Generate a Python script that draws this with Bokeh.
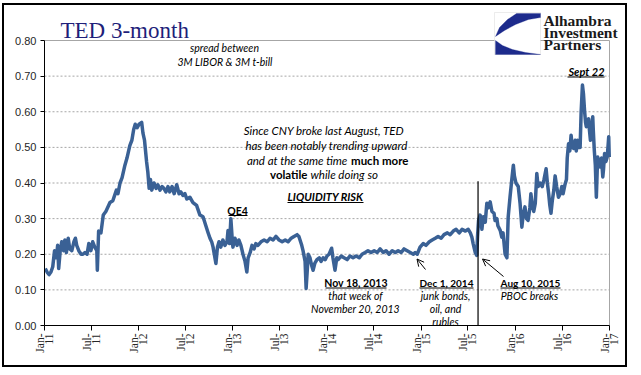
import math
import pandas as pd
from bokeh.plotting import figure
from bokeh.models import (Label, Arrow, OpenHead, BoxAnnotation, PolyAnnotation,
                          FixedTicker, Range1d, NumeralTickFormatter)
from bokeh.embed import file_html
from bokeh.resources import INLINE

# ---------------- data ----------------
dates = [
    "2011-01-04", "2011-01-11", "2011-01-19", "2011-01-26", "2011-02-02", "2011-02-09", "2011-02-16",
    "2011-02-21", "2011-02-25", "2011-03-03", "2011-03-09", "2011-03-16", "2011-03-21", "2011-03-27",
    "2011-04-03", "2011-04-09", "2011-04-17", "2011-04-25", "2011-05-01", "2011-05-06", "2011-05-14",
    "2011-05-23", "2011-05-30", "2011-06-07", "2011-06-15", "2011-06-22", "2011-06-30", "2011-07-07",
    "2011-07-15", "2011-07-23", "2011-07-25", "2011-07-30", "2011-08-08", "2011-08-17", "2011-08-27",
    "2011-09-12", "2011-09-23", "2011-10-07", "2011-10-13", "2011-10-21", "2011-10-29", "2011-11-09",
    "2011-11-17", "2011-11-28", "2011-12-06", "2011-12-13", "2011-12-19", "2011-12-26", "2012-01-03",
    "2012-01-13", "2012-01-18", "2012-01-24", "2012-02-01", "2012-02-06", "2012-02-11", "2012-02-16",
    "2012-02-21", "2012-03-01", "2012-03-09", "2012-03-16", "2012-03-24", "2012-04-01", "2012-04-08",
    "2012-04-16", "2012-04-24", "2012-05-01", "2012-05-10", "2012-05-18", "2012-05-28", "2012-06-06",
    "2012-06-13", "2012-06-21", "2012-06-29", "2012-07-06", "2012-07-18", "2012-07-30", "2012-08-13",
    "2012-08-26", "2012-09-07", "2012-09-18", "2012-09-26", "2012-10-04", "2012-10-11", "2012-10-16",
    "2012-10-27", "2012-11-02", "2012-11-08", "2012-11-15", "2012-11-23", "2012-12-01", "2012-12-09",
    "2012-12-13", "2012-12-19", "2012-12-24", "2012-12-29", "2013-01-01", "2013-01-09", "2013-01-17",
    "2013-01-24", "2013-02-01", "2013-02-09", "2013-02-17", "2013-02-24", "2013-03-01", "2013-03-09",
    "2013-03-16", "2013-03-24", "2013-03-31", "2013-04-08", "2013-04-20", "2013-05-02", "2013-05-14",
    "2013-05-25", "2013-06-06", "2013-06-17", "2013-06-29", "2013-07-11", "2013-07-23", "2013-08-03",
    "2013-08-15", "2013-08-26", "2013-09-07", "2013-09-14", "2013-09-25", "2013-09-30", "2013-10-08",
    "2013-10-12", "2013-10-16", "2013-10-20", "2013-10-27", "2013-11-02", "2013-11-08", "2013-11-15",
    "2013-11-23", "2013-12-02", "2013-12-09", "2013-12-17", "2013-12-25", "2014-01-01", "2014-01-09",
    "2014-01-19", "2014-01-24", "2014-02-01", "2014-02-08", "2014-02-13", "2014-02-25", "2014-03-08",
    "2014-03-20", "2014-03-31", "2014-04-12", "2014-04-24", "2014-05-06", "2014-05-17", "2014-05-29",
    "2014-06-09", "2014-06-21", "2014-07-03", "2014-07-15", "2014-07-26", "2014-08-07", "2014-08-18",
    "2014-08-30", "2014-09-11", "2014-09-23", "2014-10-04", "2014-10-16", "2014-10-27", "2014-11-08",
    "2014-11-20", "2014-12-02", "2014-12-09", "2014-12-17", "2014-12-28", "2015-01-09", "2015-01-20",
    "2015-02-02", "2015-02-13", "2015-02-25", "2015-03-08", "2015-03-20", "2015-03-31", "2015-04-13",
    "2015-04-24", "2015-05-06", "2015-05-17", "2015-05-29", "2015-06-09", "2015-06-22", "2015-07-03",
    "2015-07-11", "2015-07-17", "2015-07-22", "2015-07-30", "2015-08-05", "2015-08-08", "2015-08-12",
    "2015-08-18", "2015-08-25", "2015-08-30", "2015-09-07", "2015-09-13", "2015-09-18", "2015-09-26",
    "2015-10-03", "2015-10-11", "2015-10-15", "2015-10-22", "2015-10-26", "2015-11-04", "2015-11-10",
    "2015-11-15", "2015-11-23", "2015-11-30", "2015-12-05", "2015-12-12", "2015-12-19", "2015-12-25",
    "2015-12-29", "2016-01-04", "2016-01-13", "2016-01-20", "2016-01-27", "2016-02-01", "2016-02-08",
    "2016-02-14", "2016-02-20", "2016-02-27", "2016-03-02", "2016-03-07", "2016-03-13", "2016-03-19",
    "2016-03-25", "2016-03-30", "2016-04-07", "2016-04-15", "2016-04-22", "2016-04-30", "2016-05-05",
    "2016-05-10", "2016-05-14", "2016-05-19", "2016-05-24", "2016-05-30", "2016-06-04", "2016-06-10",
    "2016-06-17", "2016-06-24", "2016-06-30", "2016-07-05", "2016-07-12", "2016-07-18", "2016-07-21",
    "2016-07-26", "2016-07-31", "2016-08-05", "2016-08-10", "2016-08-15", "2016-08-21", "2016-08-25",
    "2016-08-30", "2016-09-04", "2016-09-09", "2016-09-13", "2016-09-18", "2016-09-22", "2016-09-26",
    "2016-09-30", "2016-10-03", "2016-10-07", "2016-10-12", "2016-10-15", "2016-10-19", "2016-10-23",
    "2016-10-28", "2016-10-30", "2016-11-03", "2016-11-07", "2016-11-11", "2016-11-16", "2016-11-21",
    "2016-11-26", "2016-12-01", "2016-12-06", "2016-12-09", "2016-12-13", "2016-12-18", "2016-12-23",
    "2016-12-26", "2016-12-29", "2016-12-31",
]
ted = [
    0.160, 0.150, 0.143, 0.150, 0.165, 0.210, 0.190,
    0.225, 0.160, 0.210, 0.235, 0.210, 0.240, 0.205,
    0.245, 0.215, 0.210, 0.235, 0.245, 0.225, 0.210,
    0.200, 0.200, 0.205, 0.200, 0.230, 0.210, 0.235,
    0.220, 0.210, 0.155, 0.265, 0.260, 0.310, 0.320,
    0.345, 0.350, 0.380, 0.370, 0.400, 0.415, 0.450,
    0.470, 0.505, 0.520, 0.550, 0.565, 0.555, 0.565,
    0.570, 0.540, 0.520, 0.460, 0.430, 0.385, 0.410,
    0.380, 0.400, 0.385, 0.395, 0.380, 0.390, 0.385,
    0.375, 0.390, 0.375, 0.390, 0.370, 0.395, 0.370,
    0.375, 0.365, 0.370, 0.355, 0.360, 0.345, 0.337,
    0.310, 0.305, 0.280, 0.262, 0.245, 0.234, 0.220,
    0.174, 0.220, 0.235, 0.220, 0.240, 0.225, 0.235,
    0.267, 0.230, 0.300, 0.245, 0.220, 0.245, 0.225,
    0.240, 0.225, 0.200, 0.180, 0.150, 0.190, 0.205,
    0.225, 0.215, 0.230, 0.225, 0.235, 0.240, 0.235,
    0.245, 0.240, 0.250, 0.240, 0.235, 0.240, 0.235,
    0.245, 0.250, 0.255, 0.250, 0.225, 0.210, 0.180,
    0.104, 0.150, 0.200, 0.190, 0.170, 0.155, 0.175,
    0.185, 0.190, 0.180, 0.190, 0.185, 0.195, 0.200,
    0.217, 0.190, 0.155, 0.190, 0.185, 0.195, 0.190,
    0.185, 0.195, 0.190, 0.195, 0.190, 0.200, 0.205,
    0.210, 0.205, 0.210, 0.205, 0.215, 0.205, 0.210,
    0.200, 0.210, 0.205, 0.210, 0.205, 0.215, 0.210,
    0.205, 0.200, 0.205, 0.200, 0.220, 0.230, 0.225,
    0.235, 0.240, 0.245, 0.250, 0.245, 0.255, 0.260,
    0.255, 0.265, 0.270, 0.260, 0.270, 0.265, 0.270,
    0.260, 0.248, 0.230, 0.205, 0.197, 0.250, 0.295,
    0.310, 0.270, 0.305, 0.290, 0.343, 0.330, 0.347,
    0.320, 0.315, 0.295, 0.300, 0.280, 0.267, 0.248,
    0.260, 0.200, 0.190, 0.305, 0.360, 0.410, 0.450,
    0.420, 0.400, 0.390, 0.343, 0.276, 0.310, 0.333,
    0.300, 0.295, 0.330, 0.370, 0.340, 0.320, 0.343,
    0.427, 0.390, 0.400, 0.390, 0.410, 0.440, 0.400,
    0.370, 0.340, 0.315, 0.350, 0.380, 0.420, 0.390,
    0.360, 0.370, 0.390, 0.370, 0.395, 0.410, 0.470,
    0.510, 0.490, 0.534, 0.500, 0.497, 0.520, 0.490,
    0.520, 0.500, 0.500, 0.600, 0.675, 0.650, 0.605,
    0.570, 0.558, 0.570, 0.580, 0.550, 0.520, 0.550,
    0.586, 0.550, 0.492, 0.450, 0.360, 0.473, 0.460,
    0.445, 0.470, 0.417, 0.440, 0.483, 0.460, 0.473,
    0.500, 0.530, 0.473,
]

tick_dates = ["2011-01-01", "2011-07-01", "2012-01-01", "2012-07-01", "2013-01-01", "2013-07-01",
              "2014-01-01", "2014-07-01", "2015-01-01", "2015-07-01", "2016-01-01", "2016-07-01",
              "2017-01-01"]
tick_labels = ["Jan-\n11", "Jul-\n11", "Jan-\n12", "Jul-\n12", "Jan-\n13", "Jul-\n13",
               "Jan-\n14", "Jul-\n14", "Jan-\n15", "Jul-\n15", "Jan-\n16", "Jul-\n16", "Jan-\n17"]
y_ticks = [0.0, 0.1, 0.2, 0.3, 0.4, 0.5, 0.6, 0.7, 0.8]

event_date = ["2015-08-10"]
event_top = [0.405]

# ---------------- layout (window pixels) ----------------
OX, OY = 4, 5                 # canvas origin inside the outer black border
CW, CH = 625, 364             # canvas size
FL, FB = 44, 325              # frame left / bottom (window px)
FR, FT = OX + CW, OY          # frame right / top = canvas edges
XR = 609                      # window x of the last tick (Jan-17)
YT = 40                       # window y of 0.80


def ms(d):
    return pd.Timestamp(d).value / 1e6


t0, t1 = ms(tick_dates[0]), ms(tick_dates[-1])
x_end = t0 + (t1 - t0) * (FR - FL) / (XR - FL)
y_end = y_ticks[-1] * (FB - FT) / (FB - YT)

x = pd.to_datetime(dates)

p = figure(width=CW, height=CH, x_axis_type="datetime", output_backend="svg", toolbar_location=None,
           x_range=Range1d(t0, x_end), y_range=Range1d(0, y_end),
           min_border_left=FL - OX, min_border_right=0, min_border_top=0,
           min_border_bottom=OY + CH - FB,
           background_fill_color="white", border_fill_color="white")
p.margin = (OY - 2, 0, 0, OX - 2)
p.styles = {"border": "2px solid black"}

p.outline_line_color = None
p.grid.visible = False

ya = p.yaxis[0]
ya.ticker = FixedTicker(ticks=y_ticks)
ya.bounds = (y_ticks[0], y_ticks[-1])
ya.formatter = NumeralTickFormatter(format="0.00")
ya.axis_line_color = "black"
ya.major_tick_line_color = "black"
ya.major_tick_in = 0
ya.major_tick_out = 4
ya.minor_tick_line_color = None
ya.major_label_text_font = "Liberation Sans"
ya.major_label_text_font_size = "11px"
ya.major_label_text_color = "#262626"
ya.major_label_standoff = 4

tick_ms = [ms(d) for d in tick_dates]
xa = p.xaxis[0]
xa.ticker = FixedTicker(ticks=tick_ms)
xa.bounds = (t0, t1)
xa.major_label_overrides = {t: lab for t, lab in zip(tick_ms, tick_labels)}
xa.major_label_orientation = math.pi / 2
xa.major_label_text_font = "Liberation Serif"
xa.major_label_text_font_size = "11.5px"
xa.major_label_text_line_height = 0.75
xa.major_label_text_color = "#262626"
xa.major_label_standoff = 3
xa.axis_line_color = "black"
xa.major_tick_line_color = "black"
xa.major_tick_in = 0
xa.major_tick_out = 5
xa.minor_tick_line_color = None

# plot-area grid (dashed) and the grey top / right edges of the plot area
n = len(y_ticks)
p.segment(x0=[t0] * (n - 2), x1=[t1] * (n - 2), y0=y_ticks[1:-1], y1=y_ticks[1:-1],
          line_color="#A6A6A6", line_width=1, line_dash="2 2")
p.segment(x0=[t0, t1], x1=[t1, t1], y0=[y_ticks[-1], 0], y1=[y_ticks[-1], y_ticks[-1]],
          line_color="#A6A6A6", line_width=1)

p.line(x, ted, line_width=3.5, line_color="#3A6195", line_join="round")
p.segment(x0=pd.to_datetime(event_date), y0=[0], x1=pd.to_datetime(event_date), y1=event_top,
          line_color="black", line_width=1.2)


# ---------------- decorations (screen units are frame-relative) ----------------
def sx(px):
    return px - FL


def sy(py):
    return FB - py


def lab(text, px, py, size="11px", font="Lato", style="normal", color="black", align="center",
        baseline="middle"):
    p.add_layout(Label(x=sx(px), y=sy(py), x_units="screen", y_units="screen", text=text,
                       text_font=font, text_font_size=size, text_font_style=style,
                       text_color=color, text_align=align, text_baseline=baseline))


def uline(x0, x1, py, w=1):
    p.add_layout(Arrow(x_start=sx(x0), y_start=sy(py), x_end=sx(x1), y_end=sy(py),
                       start_units="screen", end_units="screen", start=None, end=None,
                       line_color="black", line_width=w))


# title
lab("TED 3-month", 60, 30, size="23px", font="Liberation Serif", color="#1F1F7A", align="left",
    baseline="alphabetic")

# logo
p.add_layout(BoxAnnotation(left=sx(494), right=sx(540), top=sy(12), bottom=sy(54),
                           left_units="screen", right_units="screen", top_units="screen",
                           bottom_units="screen", fill_color="white", fill_alpha=1,
                           line_color="#BFBFBF", line_width=1))
up = [(516, 13), (540, 13), (540, 17), (528, 19), (515, 24), (504, 30), (495, 36), (499, 27), (507, 19)]
lo = [(495, 40), (502, 45), (512, 49), (525, 52), (540, 54), (495, 54)]
for poly in (up, lo):
    p.add_layout(PolyAnnotation(xs=[sx(a) for a, b in poly], ys=[sy(b) for a, b in poly],
                                xs_units="screen", ys_units="screen", fill_color="#1D2B8C",
                                fill_alpha=1, line_color="#1D2B8C", line_width=1))
lab("Alhambra", 543, 20, size="15.5px", font="Liberation Serif", style="bold", color="#1a1a1a",
    align="left")
lab("Investment", 543, 32, size="15.5px", font="Liberation Serif", style="bold", color="#1a1a1a",
    align="left")
lab("Partners", 543, 43.5, size="15.5px", font="Liberation Serif", style="bold", color="#1a1a1a",
    align="left")

# notes
lab("spread between", 224, 47.5, size="10.5px", style="italic")
lab("3M LIBOR & 3M t-bill", 224.5, 61, size="10.5px", style="italic")

lab("Since CNY broke  last August, TED", 325, 130, size="11.5px", style="italic")
lab("has been notably trending upward", 326, 144.5, size="11.5px", style="italic")
lab("and at the same time", 347, 159.5, size="11.5px", style="italic", align="right")
lab("much more", 350.5, 159.5, size="11.5px", style="bold", align="left")
lab("volatile", 307, 174, size="11.5px", style="bold", align="right")
lab("while doing so", 310, 174, size="11.5px", style="italic", align="left")

lab("LIQUIDITY RISK", 325, 196, style="bold italic")
uline(287, 363, 202)

lab("QE4", 237, 210, size="10.5px", style="bold")
uline(228, 247, 215)

lab("Nov 18, 2013", 355.5, 282, size="10.5px", style="bold")
uline(325, 386, 287.5)
lab("that week of", 355, 295, size="10.5px", style="italic")
lab("November 20, 2013", 355, 308, size="10.5px", style="italic")

lab("Dec 1, 2014", 446, 282, size="10px", style="bold")
uline(419, 473, 287.5)
lab("junk bonds,", 445, 295, size="10.5px", style="italic")
lab("oil, and", 445, 308, size="10.5px", style="italic")
lab("rubles", 445, 321, size="10.5px", style="italic")

lab("Aug 10, 2015", 530, 282, size="10px", style="bold")
uline(500, 560, 287.5)
lab("PBOC breaks", 529, 295, size="10.5px", style="italic")

lab("Sept 22", 586, 71, size="11px", style="bold italic")
uline(567, 604, 76.5)

# arrows
for (x0, y0, x1, y1) in [(425, 269, 416.5, 258.5), (503, 276, 482, 258.5)]:
    p.add_layout(Arrow(x_start=sx(x0), y_start=sy(y0), x_end=sx(x1), y_end=sy(y1),
                       start_units="screen", end_units="screen",
                       end=OpenHead(size=7, line_color="black", line_width=1),
                       line_color="black", line_width=1))

open("out.html", "w").write(file_html(p, INLINE))
